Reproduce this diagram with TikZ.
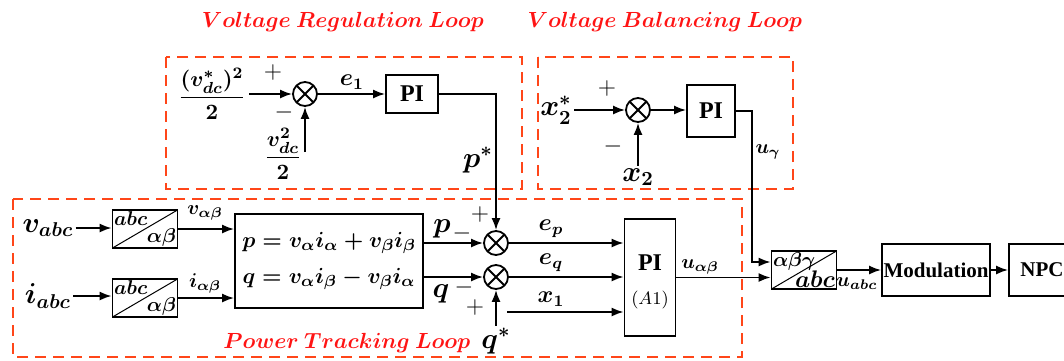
\documentclass[tikz,border=0pt]{standalone}
\usepackage{amsmath, amssymb}
\usepackage[no-math]{fontspec}
\setmainfont{Liberation Serif}
\usepackage{tikz}
\usetikzlibrary{arrows.meta, positioning, calc}
\definecolor{loopred}{RGB}{255, 20, 20}
\definecolor{dashorange}{RGB}{255, 70, 25}

\begin{document}
\begin{tikzpicture}[x=0.5pt, y=-0.5pt,
    loopbox/.style={draw=dashorange, line width=1.1pt, dash pattern=on 5.5pt off 3.5pt},
    looptitle/.style={text=loopred, font=\fontsize{10.8}{13}\selectfont\boldmath},
    blk/.style={draw, line width=0.9pt, inner sep=0pt, font=\large\bfseries},
    sumnode/.style={circle, draw, line width=0.9pt, minimum size=12pt, inner sep=0pt,
      path picture={\draw[line width=0.9pt]
        (path picture bounding box.north west) -- (path picture bounding box.south east)
        (path picture bounding box.north east) -- (path picture bounding box.south west);}},
    trans/.style={blk, minimum width=32.5pt, minimum height=19pt,
      path picture={\draw[line width=0.5pt]
        (path picture bounding box.south west) -- (path picture bounding box.north east);}},
    arr/.style={-{Latex[length=6pt, width=4.5pt]}, line width=0.9pt},
    lbl/.style={font=\large\boldmath, inner sep=1pt},
    fraclbl/.style={font=\fontsize{11}{13}\selectfont\boldmath, inner sep=0pt},
    biglbl/.style={font=\Large\boldmath, inner sep=1pt},
    smalllbl/.style={font=\normalsize\boldmath, inner sep=1pt},
    sign/.style={font=\large, inner sep=0pt}]
  \useasboundingbox (0,0) rectangle (1064,360);
  \clip (0,0) rectangle (1064,360);

  % Loop frames and titles
  \draw[loopbox] (166,57) rectangle (522,189);
  \draw[loopbox] (538,57) rectangle (793,189);
  \draw[loopbox] (13,199) rectangle (742,357);
  \node[looptitle] (regtitle) at (343,22) {$Voltage\ Regulation\ Loop$};
  \node[looptitle] (baltitle) at (665,22) {$Voltage\ Balancing\ Loop$};
  \node[looptitle] (powtitle) at (347,343) {$Power\ Tracking\ Loop$};

  % Voltage regulation loop
  \node[fraclbl] (vdcref) at (212,94) {$\dfrac{(v_{dc}^*)^2}{2}$};
  \node[sumnode] (sum1) at (305,94) {};
  \node[fraclbl] (vdc) at (283,154) {$\dfrac{v_{dc}^2}{2}$};
  \coordinate (vdcin) at (305,152);
  \node[sign] at (273,72) {$+$};
  \node[sign] at (284,112) {$-$};
  \node[blk, minimum width=26pt, minimum height=19pt] (pi1) at (412,94) {PI};
  \node[lbl] (e1) at (352,82) {$e_1$};
  \draw[arr] ([xshift=1.5pt]vdcref.east) -- (sum1.west);
  \draw[arr] (vdcin) -- (sum1.south);
  \draw[arr] (sum1.east) -- (pi1.west);
  \node[biglbl] (pref) at (478,160) {$p^*$};

  % Voltage balancing loop
  \node[biglbl] (x2ref) at (556,110) {$x_2^*$};
  \node[sumnode] (sum3) at (638,110) {};
  \node[biglbl] (x2) at (638,177) {$x_2$};
  \node[sign] at (607,88) {$+$};
  \node[sign] at (613,146) {$-$};
  \node[blk, minimum width=24pt, minimum height=26pt] (pi2) at (711,111) {PI};
  \node[smalllbl] (ugam) at (768,152) {$u_\gamma$};
  \draw[arr] (x2ref.east) -- (sum3.west);
  \draw[arr] (x2.north) -- (sum3.south);
  \draw[arr] (sum3.east) -- (sum3 -| pi2.west);

  % Power tracking loop
  \node[biglbl] (vabc) at (48,228) {$v_{abc}$};
  \node[biglbl] (iabc) at (48,296) {$i_{abc}$};
  \node[trans] (tr1a) at (145,229) {};
  \node[trans] (tr1b) at (145,298) {};
  \foreach \t in {tr1a, tr1b} {
    \node[smalllbl, anchor=north west] at (\t.north west) {$abc$};
    \node[smalllbl, anchor=south east] at (\t.south east) {$\alpha\beta$};
  }
  \node[blk, minimum width=94pt, minimum height=47pt, font=\fontsize{11}{13}\selectfont\boldmath, align=center]
    (calc) at (329,261) {$p=v_\alpha i_\alpha+v_\beta i_\beta$\\[5pt]$q=v_\alpha i_\beta-v_\beta i_\alpha$};
  \node[smalllbl] (vab) at (205,213) {$v_{\alpha\beta}$};
  \node[smalllbl] (iab) at (205,283) {$i_{\alpha\beta}$};
  \draw[arr] (vabc.east) -- (vabc -| tr1a.west);
  \draw[arr] (iabc.east) -- (iabc -| tr1b.west);
  \draw[arr] (tr1a.east) -- (tr1a -| calc.west);
  \draw[arr] (tr1b.east) -- (tr1b -| calc.west);

  \node[sumnode] (sum2) at (496,243) {};
  \node[sumnode] (sum4) at (496,277) {};
  \node[biglbl] (plbl) at (442,229) {$p$};
  \node[biglbl] (qlbl) at (441,294) {$q$};
  \node[sign] at (462,233) {$-$};
  \node[sign] at (480,214) {$+$};
  \node[sign] at (464,287) {$-$};
  \node[sign] at (475,307) {$+$};
  \node[biglbl] (qref) at (496,341) {$q^*$};
  \draw[arr] (calc.east |- sum2) -- (sum2.west);
  \draw[arr] (calc.east |- sum4) -- (sum4.west);
  \draw[arr] (qref.north) -- (sum4.south);
  \draw[arr] (pi1.east) -| (sum2.north);

  \node[blk, minimum width=25.5pt, minimum height=58.5pt] (pi3) at (650,277.5) {};
  \node[font=\large\bfseries] (pi3txt) at (650,263) {PI};
  \node[font=\small] (a1) at (650,300) {$(A1)$};
  \node[lbl] (ep) at (551,229) {$e_p$};
  \node[lbl] (eq) at (551,263) {$e_q$};
  \node[lbl] (x1) at (551,299) {$x_1$};
  \coordinate (x1in) at (507,312);
  \draw[arr] (sum2.east) -- (sum2 -| pi3.west);
  \draw[arr] (sum4.east) -- (sum4 -| pi3.west);
  \draw[arr] (x1in) -- (x1in -| pi3.west);
  \node[smalllbl] (uab) at (700,267) {$u_{\alpha\beta}$};

  % Output chain
  \node[trans] (tr2) at (804,270) {};
  \node[smalllbl, anchor=north west] at (tr2.north west) {$\alpha\beta\gamma$};
  \node[lbl, anchor=south east] at (tr2.south east) {$abc$};
  \node[blk, minimum width=54pt, minimum height=26pt, font=\fontsize{10.5}{12}\selectfont\bfseries] (mod) at (936,270) {Modulation};
  \node[blk, minimum width=33pt, minimum height=26pt, font=\fontsize{10.5}{12}\selectfont\bfseries] (npc) at (1042,270) {NPC};
  \node[smalllbl] (uabc) at (857,284) {$u_{abc}$};
  \draw[arr] (pi2.east) -| ([xshift=-9.5pt, yshift=4pt]tr2.west) -- ([yshift=4pt]tr2.west);
  \draw[arr] (pi3.east) -- (pi3.east -| tr2.west);
  \draw[arr] (tr2.east) -- (mod.west);
  \draw[arr] (mod.east) -- (npc.west);
\end{tikzpicture}
\end{document}
